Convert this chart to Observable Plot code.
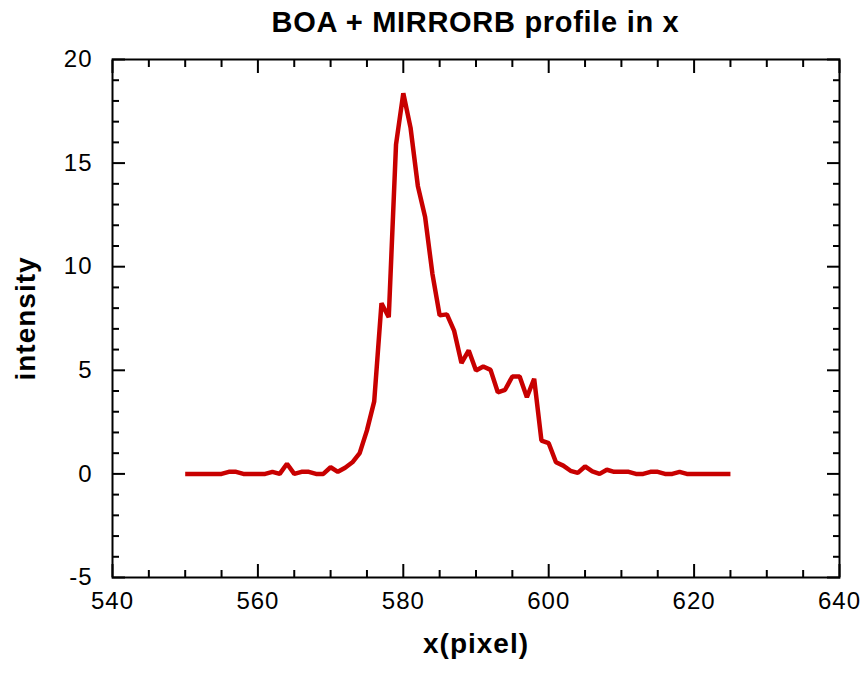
<!DOCTYPE html>
<html>
<head>
<meta charset="utf-8">
<script src="https://cdn.jsdelivr.net/npm/d3@7"></script>
<script src="https://cdn.jsdelivr.net/npm/@observablehq/plot@0.6"></script>
<style>
  body { margin: 0; background: #fff; font-family: "Liberation Sans", Arial, sans-serif; }
  #title { box-sizing: border-box; height: 40px; padding: 8px 26px 0 112px; text-align: center;
           font-weight: bold; font-size: 29px; line-height: 29px; color: #000; white-space: nowrap;
           letter-spacing: 0.7px; }
  #chart svg { display: block; }
  #chart svg text { letter-spacing: 1px; }
</style>
</head>
<body>
<div id="title">BOA + MIRRORB profile in x</div>
<div id="chart"></div>
<script>
const xPixel = [550,551,552,553,554,555,556,557,558,559,560,561,562,563,564,565,566,567,568,569,
  570,571,572,573,574,575,576,577,578,579,580,581,582,583,584,585,586,587,588,589,
  590,591,592,593,594,595,596,597,598,599,600,601,602,603,604,605,606,607,608,609,
  610,611,612,613,614,615,616,617,618,619,620,621,622,623,624,625];
const intensity = [0,0,0,0,0,0,0.1,0.1,0,0,0,0,0.1,0,0.49,0,0.1,0.1,0,0,
  0.32,0.1,0.3,0.56,1.0,2.1,3.5,8.24,7.56,15.9,18.37,16.7,13.9,12.4,9.67,7.65,7.7,6.9,5.35,5.96,
  4.99,5.18,5.02,3.94,4.06,4.7,4.7,3.7,4.59,1.61,1.48,0.56,0.4,0.15,0.05,0.36,0.12,0,0.2,0.1,
  0.1,0.1,0,0,0.1,0.1,0,0,0.1,0,0,0,0,0,0,0];

const xMajor = [540, 560, 580, 600, 620, 640];
const xMinor = d3.range(540, 641, 5).filter(v => !xMajor.includes(v));
const yMajor = [-5, 0, 5, 10, 15, 20];
const yMinor = d3.range(-5, 21, 1).filter(v => !yMajor.includes(v));

const data = xPixel.map((x, i) => ({x, y: intensity[i]}));

const tickStyle = {stroke: "#000", strokeWidth: 2, tickFormat: () => "", label: null};

const chart = Plot.plot({
  width: 865,
  height: 633,
  marginTop: 19,
  marginBottom: 96,
  marginLeft: 112,
  marginRight: 26,
  style: {fontFamily: "'Liberation Sans', Arial, sans-serif", color: "#000", background: "#fff"},
  x: {domain: [540, 640]},
  y: {domain: [-5, 20]},
  marks: [
    Plot.line(data, {x: "x", y: "y", stroke: "#c80000", strokeWidth: 4.5, strokeLinejoin: "miter", strokeLinecap: "butt"}),
    // major ticks inward on all sides
    Plot.axisX(xMajor, {anchor: "bottom", tickSize: -13, ...tickStyle}),
    Plot.axisX(xMajor, {anchor: "top", tickSize: -13, ...tickStyle}),
    Plot.axisY(yMajor, {anchor: "left", tickSize: -13, ...tickStyle}),
    Plot.axisY(yMajor, {anchor: "right", tickSize: -13, ...tickStyle}),
    // minor ticks
    Plot.axisX(xMinor, {anchor: "bottom", tickSize: -7, ...tickStyle}),
    Plot.axisX(xMinor, {anchor: "top", tickSize: -7, ...tickStyle}),
    Plot.axisY(yMinor, {anchor: "left", tickSize: -7, ...tickStyle}),
    Plot.axisY(yMinor, {anchor: "right", tickSize: -7, ...tickStyle}),
    // tick labels
    Plot.axisX(xMajor, {anchor: "bottom", tickSize: 0, tickPadding: 14, fontSize: 24, label: null, tickFormat: d => String(d)}),
    Plot.axisY(yMajor, {anchor: "left", tickSize: 0, tickPadding: 20, fontSize: 24, label: null, tickFormat: d => String(d)}),
    Plot.frame({stroke: "#000", strokeWidth: 2}),
    Plot.text(["x(pixel)"], {frameAnchor: "bottom", dy: 75, fontSize: 28, fontWeight: "bold", fill: "#000", textAnchor: "middle"}),
    Plot.text(["intensity"], {frameAnchor: "left", dx: -86, rotate: -90, fontSize: 28, fontWeight: "bold", fill: "#000", textAnchor: "middle"})
  ]
});
document.getElementById("chart").appendChild(chart);
</script>
</body>
</html>
